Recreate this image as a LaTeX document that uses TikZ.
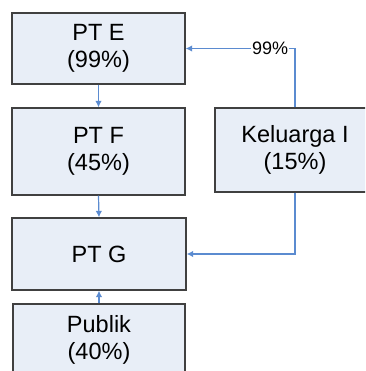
\documentclass[tikz,border=0pt]{standalone}
\usepackage{fontspec}
\setmainfont{Liberation Sans}
\usetikzlibrary{arrows.meta}
\definecolor{boxfill}{HTML}{E8EEF7}
\definecolor{boxline}{HTML}{404040}
\definecolor{arrowc}{HTML}{5B8BD0}
\tikzset{
  orgbox/.style={draw=boxline, line width=1.3pt, fill=boxfill, align=center,
    inner sep=0pt, font=\fontsize{23.5}{27}\selectfont},
  link/.style={draw=arrowc, line width=1.2pt, -{Latex[length=6.5pt,width=6.5pt]}},
  pct/.style={fill=white, inner sep=1pt, font=\fontsize{18}{20}\selectfont}
}
\begin{document}
\begin{tikzpicture}[x=1pt,y=-1pt]
\useasboundingbox (0,0) rectangle (365,371);
\clip (0,0) rectangle (365,371);
\node[orgbox, minimum width=173pt, minimum height=71pt] (E) at (98.5,48.5) {PT E\\(99\%)};
\node[orgbox, minimum width=173pt, minimum height=87pt] (F) at (98.5,151.5) {PT F\\(45\%)};
\node[orgbox, minimum width=160pt, minimum height=84pt] (K) at (295,150) {Keluarga I\\(15\%)};
\node[orgbox, minimum width=174pt, minimum height=72pt] (G) at (99,254) {PT G};
\node[orgbox, minimum width=172pt, minimum height=72pt] (P) at (99,340) {Publik\\(40\%)};
\draw[link] (E.south) -- (F.north);
\draw[link] (F.south) -- (G.north);
\draw[link] (P.north) -- (G.south);
\draw[link] (K.north) |- node[pct, pos=0.614] {99\%} (E.east);
\draw[link] (K.south) |- (G.east);
\end{tikzpicture}
\end{document}
